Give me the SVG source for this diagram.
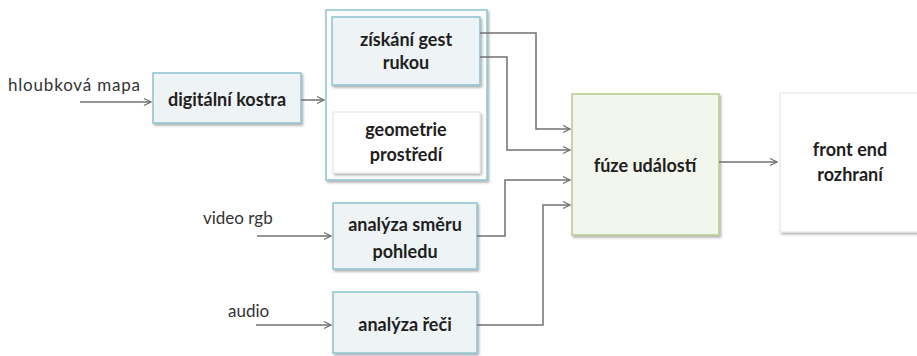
<svg xmlns="http://www.w3.org/2000/svg" width="917" height="356" viewBox="0 0 917 356">
<defs>
<marker id="arr" markerWidth="10" markerHeight="10" refX="8" refY="5" orient="auto" markerUnits="userSpaceOnUse">
<path d="M1,1.5 L8,5 L1,8.5" fill="none" stroke="#707070" stroke-width="1.3"/>
</marker>
<filter id="sh" x="-10%" y="-10%" width="130%" height="130%">
<feDropShadow dx="1.5" dy="2" stdDeviation="1.2" flood-color="#000" flood-opacity="0.3"/>
</filter>
</defs>
<style>
.bx{fill:#eef3f5;stroke:#8cc3d0;stroke-width:1.5;filter:url(#sh)}
.wh{fill:#ffffff;stroke:#e4e4e4;stroke-width:1;filter:url(#sh)}
.fu{fill:#f2f6ec;stroke:#b5cc8c;stroke-width:1.5;filter:url(#sh)}
.ct{fill:#ffffff;stroke:#8cc3d0;stroke-width:1.5;filter:url(#sh)}
.t{font-family:Lato,"Open Sans",sans-serif;font-weight:bold;font-size:18px;fill:#1e1e1e;text-anchor:middle}
.l{font-family:Lato,"Open Sans",sans-serif;font-size:17px;fill:#333}
.c{fill:none;stroke:#707070;stroke-width:1.5}
</style>
<rect width="917" height="356" fill="#fff"/>
<g id="container"><rect class="ct" x="326" y="10" width="161" height="170"/></g>
<g id="n_kostra"><rect class="bx" x="153" y="73" width="148" height="50"/><text class="t" x="227" y="106">digitální kostra</text></g>
<g id="n_gesta"><rect class="bx" x="332" y="17" width="148" height="68"/><text class="t" x="406" y="46">získání gest</text><text class="t" x="406" y="69">rukou</text></g>
<g id="n_geometrie"><rect class="wh" x="333" y="112" width="147" height="61"/><text class="t" x="406" y="136">geometrie</text><text class="t" x="406" y="161">prostředí</text></g>
<g id="n_smer"><rect class="bx" x="333" y="203" width="144" height="66"/><text class="t" x="405" y="231">analýza směru</text><text class="t" x="405" y="258">pohledu</text></g>
<g id="n_reci"><rect class="bx" x="333" y="292" width="144" height="61"/><text class="t" x="405" y="331">analýza řeči</text></g>
<g id="n_fuze"><rect class="fu" x="572" y="94" width="147" height="141"/><text class="t" x="645" y="172">fúze událostí</text></g>
<g id="n_front"><rect class="wh" x="780" y="93" width="150" height="139"/><text class="t" x="850" y="156">front end</text><text class="t" x="850" y="181">rozhraní</text></g>
<g id="labels">
<text class="l" x="8" y="91" textLength="132" lengthAdjust="spacing">hloubková mapa</text>
<text class="l" x="203" y="224">video rgb</text>
<text class="l" x="228" y="317">audio</text>
</g>
<g id="connectors">
<path class="c" d="M80,102 H151" marker-end="url(#arr)"/>
<path class="c" d="M301,100 H324" marker-end="url(#arr)"/>
<path class="c" d="M480,33 H536 V129 H570" marker-end="url(#arr)"/>
<path class="c" d="M480,57 H507 V150 H570" marker-end="url(#arr)"/>
<path class="c" d="M257,236 H331" marker-end="url(#arr)"/>
<path class="c" d="M477,236 H505 V180 H570" marker-end="url(#arr)"/>
<path class="c" d="M256,325 H331" marker-end="url(#arr)"/>
<path class="c" d="M477,325 H543 V205 H570" marker-end="url(#arr)"/>
<path class="c" d="M719,162 H777" marker-end="url(#arr)"/>
</g>
</svg>
